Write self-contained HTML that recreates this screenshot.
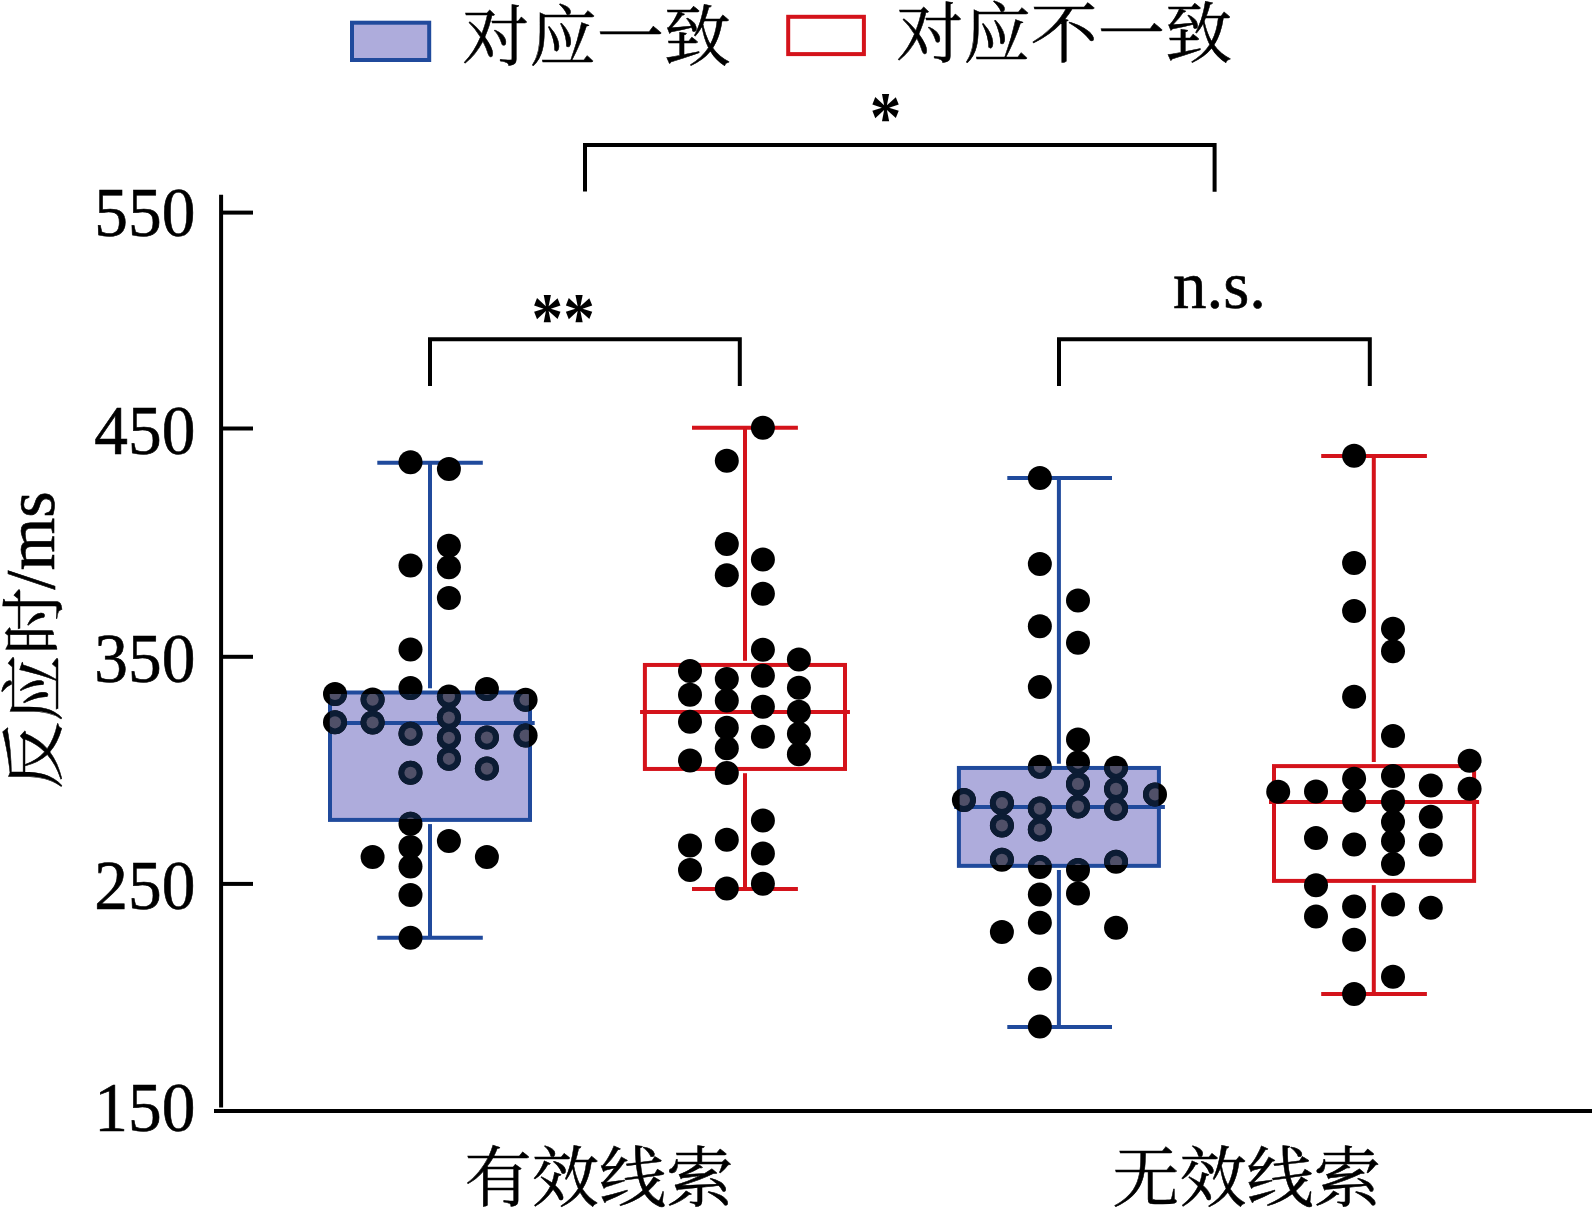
<!DOCTYPE html>
<html lang="zh-CN"><head><meta charset="utf-8"><title>反应时箱线图</title>
<style>html,body{margin:0;padding:0;background:#fff}svg{display:block}text{font-family:"Liberation Serif","Noto Serif CJK SC",serif;fill:#000}.cjk{font-family:"Liberation Serif","Noto Serif CJK SC",serif}</style></head><body>
<svg width="1593" height="1210" viewBox="0 0 1593 1210">
<rect x="0" y="0" width="1593" height="1210" fill="#fff"/>
<g stroke="#000" stroke-width="4" fill="none">
<line x1="221.1" y1="194.8" x2="221.1" y2="1107.6"/>
<line x1="214" y1="1110.9" x2="1592" y2="1110.9"/>
<line x1="221" y1="212.6" x2="253" y2="212.6"/>
<line x1="221" y1="428.5" x2="253" y2="428.5"/>
<line x1="221" y1="656.8" x2="253" y2="656.8"/>
<line x1="221" y1="883.9" x2="253" y2="883.9"/>
<polyline points="585,191.5 585,145 1214.6,145 1214.6,191.7"/>
<polyline points="430,386 430,339.3 739.8,339.3 739.8,386"/>
<polyline points="1059,386 1059,339.2 1369.8,339.2 1369.8,386"/>
</g>
<rect x="352" y="22.7" width="77.2" height="37.3" fill="#aeacdc" stroke="#204a9c" stroke-width="4"/>
<rect x="788.2" y="16.8" width="75.7" height="37.3" fill="none" stroke="#d4131b" stroke-width="4"/>
<g stroke="#204a9c" stroke-width="4" fill="none">
<rect x="330.0" y="692.5" width="200.0" height="127.4" fill="#aeacdc"/>
<line x1="325.3" y1="722.9" x2="534.7" y2="722.9"/>
<line x1="430.0" y1="462.8" x2="430.0" y2="688.3"/>
<line x1="430.0" y1="824.1" x2="430.0" y2="937.8"/>
<line x1="377.3" y1="462.8" x2="482.8" y2="462.8"/>
<line x1="377.3" y1="937.8" x2="482.8" y2="937.8"/>
</g>
<g stroke="#d4131b" stroke-width="4" fill="none">
<rect x="644.9" y="664.95" width="200.1" height="104.0" fill="none"/>
<line x1="640.05" y1="711.95" x2="849.95" y2="711.95"/>
<line x1="745.0" y1="427.7" x2="745.0" y2="660.8"/>
<line x1="745.0" y1="773.2" x2="745.0" y2="888.9"/>
<line x1="692.0" y1="427.7" x2="797.9" y2="427.7"/>
<line x1="692.0" y1="888.9" x2="797.9" y2="888.9"/>
</g>
<g stroke="#204a9c" stroke-width="4" fill="none">
<rect x="958.9" y="767.95" width="200.0" height="97.9" fill="#aeacdc"/>
<line x1="954.2" y1="807.0" x2="1164.9" y2="807.0"/>
<line x1="1058.9" y1="477.9" x2="1058.9" y2="763.8"/>
<line x1="1058.9" y1="870.1" x2="1058.9" y2="1026.9"/>
<line x1="1007.3" y1="477.9" x2="1112.0" y2="477.9"/>
<line x1="1007.3" y1="1026.9" x2="1112.0" y2="1026.9"/>
</g>
<g stroke="#d4131b" stroke-width="4" fill="none">
<rect x="1274.0" y="766.1" width="200.1" height="114.8" fill="none"/>
<line x1="1269.0" y1="801.9" x2="1479.1" y2="801.9"/>
<line x1="1373.8" y1="456.0" x2="1373.8" y2="761.9"/>
<line x1="1373.8" y1="885.1" x2="1373.8" y2="993.9"/>
<line x1="1321.2" y1="456.0" x2="1426.9" y2="456.0"/>
<line x1="1321.2" y1="993.9" x2="1426.9" y2="993.9"/>
</g>
<defs>
<clipPath id="cb0"><rect x="329.8" y="693.9" width="199.10" height="125.10"/></clipPath>
<clipPath id="cb2"><rect x="959.7" y="766.0" width="198.80" height="99.10"/></clipPath>
</defs>
<g fill="#000">
<circle cx="335.0" cy="693.9" r="12.0"/>
<circle cx="335.0" cy="722.3" r="12.0"/>
<circle cx="372.6" cy="699.6" r="12.0"/>
<circle cx="372.6" cy="722.5" r="12.0"/>
<circle cx="372.6" cy="857.0" r="12.0"/>
<circle cx="410.5" cy="462.2" r="12.0"/>
<circle cx="410.5" cy="565.4" r="12.0"/>
<circle cx="410.5" cy="649.6" r="12.0"/>
<circle cx="410.5" cy="688.1" r="12.0"/>
<circle cx="410.5" cy="733.8" r="12.0"/>
<circle cx="410.5" cy="772.8" r="12.0"/>
<circle cx="410.5" cy="823.7" r="12.0"/>
<circle cx="410.5" cy="846.9" r="12.0"/>
<circle cx="410.5" cy="866.6" r="12.0"/>
<circle cx="410.5" cy="894.9" r="12.0"/>
<circle cx="410.5" cy="937.8" r="12.0"/>
<circle cx="448.9" cy="469.0" r="12.0"/>
<circle cx="448.9" cy="545.7" r="12.0"/>
<circle cx="448.9" cy="567.2" r="12.0"/>
<circle cx="448.9" cy="597.9" r="12.0"/>
<circle cx="448.9" cy="696.5" r="12.0"/>
<circle cx="448.9" cy="717.6" r="12.0"/>
<circle cx="448.9" cy="737.8" r="12.0"/>
<circle cx="448.9" cy="758.8" r="12.0"/>
<circle cx="448.9" cy="841.1" r="12.0"/>
<circle cx="486.9" cy="689.0" r="12.0"/>
<circle cx="486.9" cy="737.6" r="12.0"/>
<circle cx="486.9" cy="768.6" r="12.0"/>
<circle cx="486.9" cy="857.0" r="12.0"/>
<circle cx="525.6" cy="699.7" r="12.0"/>
<circle cx="525.6" cy="735.6" r="12.0"/>
</g>
<g clip-path="url(#cb0)">
<circle cx="335.0" cy="693.9" r="12.0" fill="#0c1c34"/>
<circle cx="335.0" cy="722.3" r="12.0" fill="#0c1c34"/>
<circle cx="372.6" cy="699.6" r="12.0" fill="#0c1c34"/>
<circle cx="372.6" cy="722.5" r="12.0" fill="#0c1c34"/>
<circle cx="410.5" cy="688.1" r="12.0" fill="#0c1c34"/>
<circle cx="410.5" cy="733.8" r="12.0" fill="#0c1c34"/>
<circle cx="410.5" cy="772.8" r="12.0" fill="#0c1c34"/>
<circle cx="410.5" cy="823.7" r="12.0" fill="#0c1c34"/>
<circle cx="448.9" cy="696.5" r="12.0" fill="#0c1c34"/>
<circle cx="448.9" cy="717.6" r="12.0" fill="#0c1c34"/>
<circle cx="448.9" cy="737.8" r="12.0" fill="#0c1c34"/>
<circle cx="448.9" cy="758.8" r="12.0" fill="#0c1c34"/>
<circle cx="486.9" cy="689.0" r="12.0" fill="#0c1c34"/>
<circle cx="486.9" cy="737.6" r="12.0" fill="#0c1c34"/>
<circle cx="486.9" cy="768.6" r="12.0" fill="#0c1c34"/>
<circle cx="525.6" cy="699.7" r="12.0" fill="#0c1c34"/>
<circle cx="525.6" cy="735.6" r="12.0" fill="#0c1c34"/>
</g>
<g clip-path="url(#cb0)" fill="#505068">
<circle cx="335.0" cy="693.9" r="6.1"/>
<circle cx="335.0" cy="722.3" r="6.1"/>
<circle cx="372.6" cy="699.6" r="6.1"/>
<circle cx="372.6" cy="722.5" r="6.1"/>
<circle cx="410.5" cy="688.1" r="6.1"/>
<circle cx="410.5" cy="733.8" r="6.1"/>
<circle cx="410.5" cy="772.8" r="6.1"/>
<circle cx="410.5" cy="823.7" r="6.1"/>
<circle cx="448.9" cy="696.5" r="6.1"/>
<circle cx="448.9" cy="717.6" r="6.1"/>
<circle cx="448.9" cy="737.8" r="6.1"/>
<circle cx="448.9" cy="758.8" r="6.1"/>
<circle cx="486.9" cy="689.0" r="6.1"/>
<circle cx="486.9" cy="737.6" r="6.1"/>
<circle cx="486.9" cy="768.6" r="6.1"/>
<circle cx="525.6" cy="699.7" r="6.1"/>
<circle cx="525.6" cy="735.6" r="6.1"/>
</g>
<g fill="#000">
<circle cx="690.0" cy="670.9" r="12.0"/>
<circle cx="690.0" cy="694.7" r="12.0"/>
<circle cx="690.0" cy="721.8" r="12.0"/>
<circle cx="690.0" cy="760.6" r="12.0"/>
<circle cx="690.0" cy="845.5" r="12.0"/>
<circle cx="690.0" cy="869.9" r="12.0"/>
<circle cx="726.8" cy="460.8" r="12.0"/>
<circle cx="726.8" cy="544.1" r="12.0"/>
<circle cx="726.8" cy="575.3" r="12.0"/>
<circle cx="726.8" cy="679.0" r="12.0"/>
<circle cx="726.8" cy="700.5" r="12.0"/>
<circle cx="726.8" cy="727.7" r="12.0"/>
<circle cx="726.8" cy="748.2" r="12.0"/>
<circle cx="726.8" cy="772.9" r="12.0"/>
<circle cx="726.8" cy="839.8" r="12.0"/>
<circle cx="726.8" cy="888.5" r="12.0"/>
<circle cx="762.9" cy="427.7" r="12.0"/>
<circle cx="762.9" cy="559.4" r="12.0"/>
<circle cx="762.9" cy="593.8" r="12.0"/>
<circle cx="762.9" cy="649.7" r="12.0"/>
<circle cx="762.9" cy="675.8" r="12.0"/>
<circle cx="762.9" cy="706.7" r="12.0"/>
<circle cx="762.9" cy="736.8" r="12.0"/>
<circle cx="762.9" cy="820.6" r="12.0"/>
<circle cx="762.9" cy="853.5" r="12.0"/>
<circle cx="762.9" cy="883.7" r="12.0"/>
<circle cx="798.9" cy="659.5" r="12.0"/>
<circle cx="798.9" cy="687.7" r="12.0"/>
<circle cx="798.9" cy="711.7" r="12.0"/>
<circle cx="798.9" cy="733.8" r="12.0"/>
<circle cx="798.9" cy="754.2" r="12.0"/>
</g>
<g fill="#000">
<circle cx="963.9" cy="800.0" r="12.0"/>
<circle cx="1001.9" cy="803.0" r="12.0"/>
<circle cx="1001.9" cy="825.5" r="12.0"/>
<circle cx="1001.9" cy="859.8" r="12.0"/>
<circle cx="1001.9" cy="932.1" r="12.0"/>
<circle cx="1039.85" cy="477.9" r="12.0"/>
<circle cx="1039.85" cy="563.9" r="12.0"/>
<circle cx="1039.85" cy="626.2" r="12.0"/>
<circle cx="1039.85" cy="686.9" r="12.0"/>
<circle cx="1039.85" cy="766.8" r="12.0"/>
<circle cx="1039.85" cy="808.6" r="12.0"/>
<circle cx="1039.85" cy="829.5" r="12.0"/>
<circle cx="1039.85" cy="866.9" r="12.0"/>
<circle cx="1039.85" cy="894.5" r="12.0"/>
<circle cx="1039.85" cy="922.7" r="12.0"/>
<circle cx="1039.85" cy="978.8" r="12.0"/>
<circle cx="1039.85" cy="1026.5" r="12.0"/>
<circle cx="1078.0" cy="600.4" r="12.0"/>
<circle cx="1078.0" cy="642.7" r="12.0"/>
<circle cx="1078.0" cy="739.5" r="12.0"/>
<circle cx="1078.0" cy="762.6" r="12.0"/>
<circle cx="1078.0" cy="783.9" r="12.0"/>
<circle cx="1078.0" cy="806.6" r="12.0"/>
<circle cx="1078.0" cy="869.9" r="12.0"/>
<circle cx="1078.0" cy="893.5" r="12.0"/>
<circle cx="1116.05" cy="767.8" r="12.0"/>
<circle cx="1116.05" cy="788.9" r="12.0"/>
<circle cx="1116.05" cy="808.8" r="12.0"/>
<circle cx="1116.05" cy="861.8" r="12.0"/>
<circle cx="1116.05" cy="927.7" r="12.0"/>
<circle cx="1155.0" cy="794.4" r="12.0"/>
</g>
<g clip-path="url(#cb2)">
<circle cx="963.9" cy="800.0" r="12.0" fill="#0c1c34"/>
<circle cx="1001.9" cy="803.0" r="12.0" fill="#0c1c34"/>
<circle cx="1001.9" cy="825.5" r="12.0" fill="#0c1c34"/>
<circle cx="1001.9" cy="859.8" r="12.0" fill="#0c1c34"/>
<circle cx="1039.85" cy="766.8" r="12.0" fill="#0c1c34"/>
<circle cx="1039.85" cy="808.6" r="12.0" fill="#0c1c34"/>
<circle cx="1039.85" cy="829.5" r="12.0" fill="#0c1c34"/>
<circle cx="1039.85" cy="866.9" r="12.0" fill="#0c1c34"/>
<circle cx="1078.0" cy="762.6" r="12.0" fill="#0c1c34"/>
<circle cx="1078.0" cy="783.9" r="12.0" fill="#0c1c34"/>
<circle cx="1078.0" cy="806.6" r="12.0" fill="#0c1c34"/>
<circle cx="1078.0" cy="869.9" r="12.0" fill="#0c1c34"/>
<circle cx="1116.05" cy="767.8" r="12.0" fill="#0c1c34"/>
<circle cx="1116.05" cy="788.9" r="12.0" fill="#0c1c34"/>
<circle cx="1116.05" cy="808.8" r="12.0" fill="#0c1c34"/>
<circle cx="1116.05" cy="861.8" r="12.0" fill="#0c1c34"/>
<circle cx="1155.0" cy="794.4" r="12.0" fill="#0c1c34"/>
</g>
<g clip-path="url(#cb2)" fill="#505068">
<circle cx="963.9" cy="800.0" r="6.1"/>
<circle cx="1001.9" cy="803.0" r="6.1"/>
<circle cx="1001.9" cy="825.5" r="6.1"/>
<circle cx="1001.9" cy="859.8" r="6.1"/>
<circle cx="1039.85" cy="766.8" r="6.1"/>
<circle cx="1039.85" cy="808.6" r="6.1"/>
<circle cx="1039.85" cy="829.5" r="6.1"/>
<circle cx="1039.85" cy="866.9" r="6.1"/>
<circle cx="1078.0" cy="762.6" r="6.1"/>
<circle cx="1078.0" cy="783.9" r="6.1"/>
<circle cx="1078.0" cy="806.6" r="6.1"/>
<circle cx="1078.0" cy="869.9" r="6.1"/>
<circle cx="1116.05" cy="767.8" r="6.1"/>
<circle cx="1116.05" cy="788.9" r="6.1"/>
<circle cx="1116.05" cy="808.8" r="6.1"/>
<circle cx="1116.05" cy="861.8" r="6.1"/>
<circle cx="1155.0" cy="794.4" r="6.1"/>
</g>
<g fill="#000">
<circle cx="1278.2" cy="791.8" r="12.0"/>
<circle cx="1316.0" cy="791.4" r="12.0"/>
<circle cx="1316.0" cy="838.0" r="12.0"/>
<circle cx="1316.0" cy="885.3" r="12.0"/>
<circle cx="1316.0" cy="916.4" r="12.0"/>
<circle cx="1354.1" cy="455.8" r="12.0"/>
<circle cx="1354.1" cy="563.0" r="12.0"/>
<circle cx="1354.1" cy="610.9" r="12.0"/>
<circle cx="1354.1" cy="696.7" r="12.0"/>
<circle cx="1354.1" cy="778.7" r="12.0"/>
<circle cx="1354.1" cy="800.6" r="12.0"/>
<circle cx="1354.1" cy="844.5" r="12.0"/>
<circle cx="1354.1" cy="906.5" r="12.0"/>
<circle cx="1354.1" cy="939.7" r="12.0"/>
<circle cx="1354.1" cy="993.9" r="12.0"/>
<circle cx="1393.0" cy="628.7" r="12.0"/>
<circle cx="1393.0" cy="651.3" r="12.0"/>
<circle cx="1393.0" cy="736.0" r="12.0"/>
<circle cx="1393.0" cy="775.9" r="12.0"/>
<circle cx="1393.0" cy="801.5" r="12.0"/>
<circle cx="1393.0" cy="821.9" r="12.0"/>
<circle cx="1393.0" cy="841.2" r="12.0"/>
<circle cx="1393.0" cy="864.0" r="12.0"/>
<circle cx="1393.0" cy="904.6" r="12.0"/>
<circle cx="1393.0" cy="976.7" r="12.0"/>
<circle cx="1430.8" cy="785.4" r="12.0"/>
<circle cx="1430.8" cy="816.7" r="12.0"/>
<circle cx="1430.8" cy="844.7" r="12.0"/>
<circle cx="1430.8" cy="907.8" r="12.0"/>
<circle cx="1469.6" cy="760.7" r="12.0"/>
<circle cx="1469.6" cy="788.8" r="12.0"/>
</g>
<text font-size="68" transform="translate(195.3,235.6) scale(0.99,1.03)" text-anchor="end" stroke="#000" stroke-width="0.6">550</text>
<text font-size="68" transform="translate(195.3,453.7) scale(0.99,1.03)" text-anchor="end" stroke="#000" stroke-width="0.6">450</text>
<text font-size="68" transform="translate(195.3,681.5) scale(0.99,1.03)" text-anchor="end" stroke="#000" stroke-width="0.6">350</text>
<text font-size="68" transform="translate(195.3,909.2) scale(0.99,1.03)" text-anchor="end" stroke="#000" stroke-width="0.6">250</text>
<text font-size="68" transform="translate(195.3,1131.2) scale(0.99,1.03)" text-anchor="end" stroke="#000" stroke-width="0.6">150</text>
<text font-size="68" transform="translate(885.6,141) scale(0.93,1.07)" text-anchor="middle" font-weight="bold">*</text>
<text font-size="68" transform="translate(563.2,342) scale(0.93,1.07)" text-anchor="middle" font-weight="bold">**</text>
<text font-size="68" transform="translate(1219.5,308) scale(0.985,1.0)" text-anchor="middle" stroke="#000" stroke-width="0.6">n.s.</text>
<text font-size="67.2" transform="translate(462.3,59.9) scale(1.0,0.977)" class="cjk" font-weight="400" stroke="#000" stroke-width="0.5">对应一致</text>
<text font-size="67.2" transform="translate(896.2,56.8) scale(1.0,0.977)" class="cjk" font-weight="400" stroke="#000" stroke-width="0.5">对应不一致</text>
<text font-size="67.2" transform="translate(464.6,1200.9) scale(1.0,0.977)" class="cjk" font-weight="400" stroke="#000" stroke-width="0.5">有效线索</text>
<text font-size="67.2" transform="translate(1112.2,1200.9) scale(1.0,0.977)" class="cjk" font-weight="400" stroke="#000" stroke-width="0.5">无效线索</text>
<text font-size="67.2" transform="translate(56.15,789) rotate(-90) scale(1.0,0.945)" class="cjk" font-weight="400" stroke="#000" stroke-width="0.5">反应时</text>
<text font-size="68" transform="translate(53.7,589.4) rotate(-90) scale(1.0,1.03)" stroke="#000" stroke-width="0.6">/ms</text>
</svg></body></html>
